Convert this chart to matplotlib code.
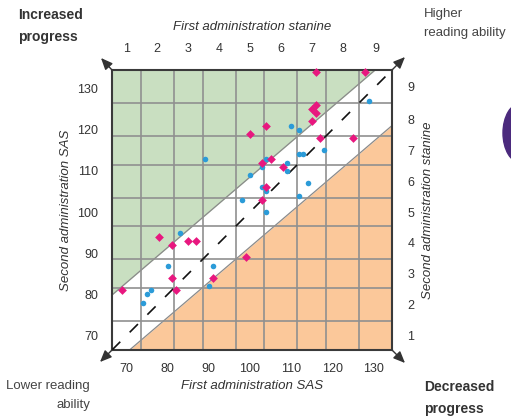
import matplotlib
matplotlib.use("Agg")
import matplotlib.pyplot as plt
from matplotlib.patches import Ellipse, FancyArrowPatch
import numpy as np

plt.rcParams['font.family'] = ['Liberation Sans', 'DejaVu Sans']

# Standard age scores (first, second administration)
first_blue = [83, 80, 76, 75, 74, 91, 90, 89, 100, 98, 103, 104, 104, 103, 109, 109,
              114, 112, 110, 112, 104, 112, 113, 118, 129]
second_blue = [95, 87, 81, 80, 78, 87, 82, 113, 109, 103, 106, 105, 100, 111, 112, 110,
               107, 104, 121, 120, 113, 114, 114, 115, 127]

first_pink = [69, 78, 81, 85, 87, 81, 82, 91, 99, 103, 104, 108, 103, 105, 100, 104,
              116, 128, 116, 115, 116, 115, 117, 125]
second_pink = [81, 94, 92, 93, 93, 84, 81, 84, 89, 103, 106, 111, 112, 113, 119, 121,
               134, 134, 126, 125, 124, 122, 118, 118]

# Stanine band edges on the SAS scale
stanine_edges = [66.5, 73.5, 81.5, 88.5, 96.5, 103.5, 111.5, 118.5, 126.5, 134.5]
stanine_labels = ['1', '2', '3', '4', '5', '6', '7', '8', '9']
sas_ticks = [70, 80, 90, 100, 110, 120, 130]

# Expected-progress band: regression line with half-width
band_slope = 0.855
band_half = 8.5

W, H = 511, 416
fig = plt.figure(figsize=(W / 100, H / 100), dpi=100)
ax = fig.add_axes([112 / W, 66 / H, 280 / W, 280 / H])

lo, hi = stanine_edges[0], stanine_edges[-1]
ax.set_xlim(lo, hi)
ax.set_ylim(lo, hi)

xs = np.linspace(lo, hi, 200)
centre = 100 + band_slope * (xs - 100)
upper = centre + band_half
lower = centre - band_half
ax.fill_between(xs, upper, hi, color='#c9dfc1', zorder=0, linewidth=0)
ax.fill_between(xs, lo, lower, color='#fbc89a', zorder=0, linewidth=0)
ax.plot(xs, upper, color='#8a8a8a', lw=0.9, zorder=1)
ax.plot(xs, lower, color='#8a8a8a', lw=0.9, zorder=1)

for e in stanine_edges[1:-1]:
    ax.axvline(e, color='#909090', lw=1.2, zorder=2)
    ax.axhline(e, color='#909090', lw=1.2, zorder=2)

ax.plot([lo, hi], [lo, hi], color='#111111', lw=1.2, dashes=(7, 8), zorder=3)

ax.scatter(first_blue, second_blue, s=16, color='#2b9bd8', marker='o',
           linewidths=0, zorder=5, clip_on=False)
ax.scatter(first_pink, second_pink, s=20, color='#e8177f', marker='D',
           linewidths=0, zorder=6, clip_on=False)

for s in ax.spines.values():
    s.set_color('#3a3a3a')
    s.set_linewidth(1.5)

tick_color = '#333333'
ax.set_xticks(sas_ticks)
ax.set_yticks(sas_ticks)
ax.tick_params(length=0, labelsize=9, labelcolor=tick_color)
ax.tick_params(axis='x', pad=9)
ax.tick_params(axis='y', pad=10)

centres = [(a + b) / 2 for a, b in zip(stanine_edges[:-1], stanine_edges[1:])]
top = ax.secondary_xaxis('top')
top.set_xticks(centres, labels=stanine_labels)
top.tick_params(length=0, labelsize=9, labelcolor=tick_color, pad=11)
top.spines['top'].set_visible(False)
right = ax.secondary_yaxis('right')
right.set_yticks(centres, labels=stanine_labels)
right.tick_params(length=0, labelsize=9, labelcolor=tick_color, pad=11)
right.spines['right'].set_visible(False)

lab = dict(fontsize=9.5, style='italic', color='#333333')
fig.text(252 / W, 1 - 386 / H, 'First administration SAS', ha='center', va='center', **lab)
fig.text(252 / W, 1 - 27 / H, 'First administration stanine', ha='center', va='center', **lab)
fig.text(66 / W, 1 - 210 / H, 'Second administration SAS', ha='center', va='center',
         rotation=90, **lab)
fig.text(428 / W, 1 - 210 / H, 'Second administration stanine', ha='center', va='center',
         rotation=90, **lab)

bold = dict(fontsize=10, fontweight='heavy', color='#333333', linespacing=1.75)
norm = dict(fontsize=9.5, color='#444444', linespacing=1.75)
fig.text(18 / W, 1 - 8 / H, 'Increased\nprogress', ha='left', va='top', **bold)
fig.text(424 / W, 1 - 380 / H, 'Decreased\nprogress', ha='left', va='top', **bold)
fig.text(424 / W, 1 - 8 / H, 'Higher\nreading ability', ha='left', va='top', **norm)
fig.text(90 / W, 1 - 380 / H, 'Lower reading\nability', ha='right', va='top',
         multialignment='right', **norm)

# Corner arrows pointing outward
for (x0, y0), (x1, y1) in [((112, 70), (101, 58)), ((392, 70), (405, 57)),
                           ((112, 350), (100, 362)), ((392, 350), (405, 363))]:
    fig.add_artist(FancyArrowPatch(
        (x0, H - y0), (x1, H - y1), transform=None,
        arrowstyle='-|>,head_length=0.7,head_width=0.3', mutation_scale=10,
        color='#333333', lw=1.0, shrinkA=0, shrinkB=0))

fig.add_artist(Ellipse((521 / W, 1 - 133 / H), 36 / W, 60 / H, color='#4b2a7d',
                       transform=fig.transFigure))

fig.savefig('out.png', dpi=100)
